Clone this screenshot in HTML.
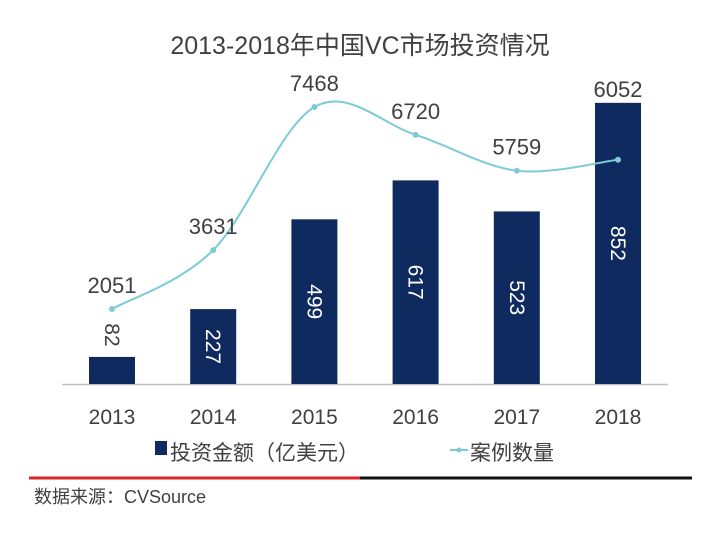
<!DOCTYPE html>
<html><head><meta charset="utf-8"><style>
body{margin:0;background:#fff;}
svg{display:block;font-family:"Liberation Sans","Noto Sans CJK SC",sans-serif;}
</style></head><body>
<svg width="720" height="533" viewBox="0 0 720 533">
<text x="360" y="54" text-anchor="middle" font-size="25" fill="#404040">2013-2018年中国VC市场投资情况</text>
<line x1="62" y1="384.5" x2="668" y2="384.5" stroke="#bfbfbf" stroke-width="1.5"/>
<g id="bars"></g>
<g id="line"></g>
<g id="xlabels"></g>
<g>
<rect x="155" y="441" width="12" height="14" fill="#0e2a5e"/>
<text x="170" y="460" font-size="21" fill="#404040">投资金额（亿美元）</text>
<line x1="450" y1="450" x2="468" y2="450" stroke="#7ccbd6" stroke-width="2"/>
<circle cx="459" cy="450" r="2.5" fill="#7ccbd6"/>
<text x="470" y="460" font-size="21" fill="#404040">案例数量</text>
</g>
<line x1="29" y1="478" x2="360" y2="478" stroke="#d9262b" stroke-width="3"/>
<line x1="360" y1="478" x2="692" y2="478" stroke="#111" stroke-width="3"/>
<text x="34" y="503" font-size="18" fill="#404040">数据来源：CVSource</text>
</svg>
<script>
const years=["2013","2014","2015","2016","2017","2018"];
const amounts=[82,227,499,617,523,852];
const cases=[2051,3631,7468,6720,5759,6052];
const NS="http://www.w3.org/2000/svg";
const base=384;
function xc(i){return 112+i*101.2;}
function yb(v){return base-v*0.33;}
function yl(v){return 385.5-v*0.0373;}
function mk(t,a){const e=document.createElementNS(NS,t);for(const k in a)e.setAttribute(k,a[k]);return e;}
const gb=document.getElementById('bars'),gl=document.getElementById('line'),gx=document.getElementById('xlabels');
amounts.forEach((v,i)=>{
 const r=mk('rect',{x:xc(i)-23,y:yb(v),width:46,height:base-yb(v),fill:'#0e2a5e'});
 
 
 gb.appendChild(r);
 const small=(base-yb(v))<40;
 const cy=small?yb(v)-22:yb(v)+(base-yb(v))/2;
 const t=mk('text',{x:0,y:0,'text-anchor':'middle','font-size':21,fill:small?'#404040':'#fff',transform:`translate(${xc(i)-7},${cy}) rotate(90)`});
 t.textContent=v;
 
 
 gb.appendChild(t);
 const xt=mk('text',{x:xc(i),y:424,'text-anchor':'middle','font-size':21,fill:'#404040'});
 xt.textContent=years[i];
 
 
 gx.appendChild(xt);
});
const pts=cases.map((v,i)=>[xc(i),yl(v)]);
let d=`M${pts[0][0]},${pts[0][1]}`;
for(let i=0;i<pts.length-1;i++){
 const p0=pts[i-1]||pts[i],p1=pts[i],p2=pts[i+1],p3=pts[i+2]||p2;
 d+=` C${p1[0]+(p2[0]-p0[0])/6},${p1[1]+(p2[1]-p0[1])/6} ${p2[0]-(p3[0]-p1[0])/6},${p2[1]-(p3[1]-p1[1])/6} ${p2[0]},${p2[1]}`;
}
const path=mk('path',{d:d,fill:'none',stroke:'#7ccbd6','stroke-width':2});


gl.appendChild(path);
pts.forEach((p,i)=>{
 const c=mk('circle',{cx:p[0],cy:p[1],r:3,fill:'#7ccbd6'});
 
 
 gl.appendChild(c);
 const ly=i==5?yb(amounts[5])-6:p[1]-16;
 const t=mk('text',{x:p[0],y:ly,'text-anchor':'middle','font-size':22,fill:'#404040'});
 t.textContent=cases[i];
 
 
 gl.appendChild(t);
});
</script>
</body></html>
